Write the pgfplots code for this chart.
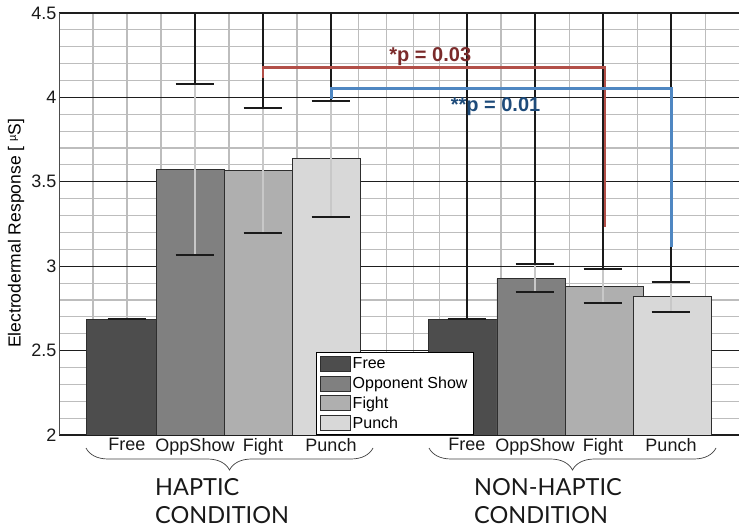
\documentclass[border=0pt]{standalone}
\usepackage{fontspec}
\setmainfont{Liberation Sans}
\newfontfamily\condfont{Lato}
\usepackage{pgfplots}
\pgfplotsset{compat=1.18}
\usetikzlibrary{decorations.pathreplacing}
\definecolor{cFree}{HTML}{4D4D4D}
\definecolor{cOpp}{HTML}{808080}
\definecolor{cFight}{HTML}{AFAFAF}
\definecolor{cPunch}{HTML}{D8D8D8}
\definecolor{barEdge}{HTML}{2E2E2E}
\definecolor{gridDark}{HTML}{1E1E1E}
\definecolor{gridLight}{HTML}{BDBDBD}
\definecolor{errLight}{HTML}{C8C8C8}
\definecolor{errDark}{HTML}{1A1A1A}
\definecolor{bracketRed}{HTML}{B24F48}
\definecolor{bracketBlue}{HTML}{4F87C2}
\definecolor{textRed}{HTML}{7B2B2B}
\definecolor{textBlue}{HTML}{1E4B7A}
\pgfplotsset{
  legbox/.style={legend image code/.code={\draw[##1] (0bp,-7.5bp) rectangle (30bp,7.5bp);}},
  barstyle/.style={ybar, bar shift=0pt, draw=barEdge, line width=0.8bp, legbox},
  errL/.style={errLight, line width=2bp, forget plot},
  errD/.style={errDark, line width=1.5bp, forget plot},
  cap/.style={errDark, line width=2bp, forget plot},
}
\begin{document}
\begin{tikzpicture}
\useasboundingbox (-59bp,-94bp) rectangle (680bp,435bp);
\begin{axis}[
  scale only axis, width=680bp, height=422bp,
  xmin=0, xmax=10, ymin=2, ymax=4.5,
  ytick={2,2.5,3,3.5,4,4.5}, minor y tick num=4,
  xtick={1,2,3,4,6,7,8,9},
  xticklabels={Free,OppShow,Fight,Punch,Free,OppShow,Fight,Punch},
  minor xtick={0.5,1,1.5,2.5,3.5,4.40,4.81,5.21,5.60,6.5,7.51,8.51,9.51},
  xmajorgrids=false, xminorgrids=true, ymajorgrids=true, yminorgrids=true,
  major grid style={draw=gridDark, line width=1.1bp},
  minor grid style={draw=gridLight, line width=1.1bp},
  major tick length=0pt, minor tick length=0pt,
  axis line style={draw=none},
  /pgf/number format/assume math mode=true,
  yticklabel style={font=\fontsize{18bp}{20bp}\selectfont, text=black!90, inner sep=2.5bp},
  xticklabel style={font=\fontsize{18bp}{20bp}\selectfont, text=black!90, inner sep=3bp},
  ylabel={Electrodermal Response [ \raisebox{0.5ex}{\fontsize{11bp}{11bp}\selectfont µ}S]},
  ylabel style={font=\fontsize{17.5bp}{19bp}\selectfont, at={(axis description cs:-0.0632,0.478)}, anchor=center},
  legend style={at={(axis description cs:0.378,0)}, anchor=south west, draw=black, line width=0.8bp,
    fill=white, font=\fontsize{16bp}{18bp}\selectfont, inner xsep=4bp, inner ysep=3.5bp,
    row sep=3.6bp, nodes={inner sep=1.5bp}},
  legend cell align=left,
]
% bars
\addplot[barstyle, bar width=1.02, fill=cFree] coordinates {(0.92,2.684) (5.94,2.684)};
\addlegendentry{Free}
\addplot[barstyle, bar width=1.0, fill=cOpp] coordinates {(1.93,3.574) (6.94,2.926)};
\addlegendentry{Opponent Show}
\addplot[barstyle, bar width=1.0, fill=cFight] coordinates {(2.93,3.568)};
\addlegendentry{Fight}
\addplot[barstyle, bar width=1.0, fill=cPunch] coordinates {(3.93,3.637)};
\addlegendentry{Punch}
\addplot[barstyle, bar width=1.15, fill=cFight, forget plot] coordinates {(8.015,2.883)};
\addplot[barstyle, bar width=1.15, fill=cPunch, forget plot] coordinates {(9.015,2.819)};
% error bars: light segments
\addplot[errL] coordinates {(2,3.066) (2,4.079)};
\addplot[errL] coordinates {(3,3.199) (3,3.939)};
\addplot[errL] coordinates {(4,3.293) (4,3.979)};
\addplot[errL] coordinates {(7,2.845) (7,3.011)};
\addplot[errL] coordinates {(8,2.784) (8,2.985)};
\addplot[errL] coordinates {(9,2.730) (9,2.904)};
% dark upper lines
\addplot[errD] coordinates {(2,4.079) (2,4.5)};
\addplot[errD] coordinates {(3,3.939) (3,4.5)};
\addplot[errD] coordinates {(4,3.979) (4,4.5)};
\addplot[errD] coordinates {(6,2.686) (6,4.5)};
\addplot[errD] coordinates {(7,3.011) (7,4.5)};
\addplot[errD] coordinates {(8,2.985) (8,4.5)};
\addplot[errD] coordinates {(9,2.904) (9,4.5)};
% caps
\addplot[cap] coordinates {(0.715,2.686) (1.285,2.686)};
\addplot[cap] coordinates {(1.715,4.079) (2.285,4.079)};
\addplot[cap] coordinates {(1.715,3.066) (2.285,3.066)};
\addplot[cap] coordinates {(2.715,3.939) (3.285,3.939)};
\addplot[cap] coordinates {(2.715,3.199) (3.285,3.199)};
\addplot[cap] coordinates {(3.715,3.979) (4.285,3.979)};
\addplot[cap] coordinates {(3.715,3.293) (4.285,3.293)};
\addplot[cap] coordinates {(5.715,2.686) (6.285,2.686)};
\addplot[cap] coordinates {(6.715,3.011) (7.285,3.011)};
\addplot[cap] coordinates {(6.715,2.845) (7.285,2.845)};
\addplot[cap] coordinates {(7.715,2.985) (8.285,2.985)};
\addplot[cap] coordinates {(7.715,2.784) (8.285,2.784)};
\addplot[cap] coordinates {(8.715,2.904) (9.285,2.904)};
\addplot[cap] coordinates {(8.715,2.730) (9.285,2.730)};
% significance brackets
\addplot[bracketRed, line width=2.6bp, forget plot] coordinates {(3.0,4.115) (3.0,4.176) (8.03,4.176) (8.03,3.232)};
\addplot[bracketBlue, line width=2.6bp, forget plot] coordinates {(4.01,3.99) (4.01,4.054) (9.01,4.054) (9.01,3.114)};
\node[anchor=base, font=\bfseries\fontsize{20bp}{22bp}\selectfont, text=textRed, inner sep=0] at (axis cs:5.46,4.211) {*p = 0.03};
\node[anchor=base, font=\bfseries\fontsize{20bp}{22bp}\selectfont, text=textBlue, inner sep=0] at (axis cs:6.42,3.919) {**p = 0.01};
\end{axis}
\draw[black!70, line width=1bp] (0,0) -- (0,422bp);
\draw[decorate, decoration={brace, mirror, amplitude=22bp}, line width=0.7bp, black!75] (27bp,-13bp) -- (314bp,-13bp);
\draw[decorate, decoration={brace, mirror, amplitude=22bp}, line width=0.7bp, black!75] (370bp,-13bp) -- (657bp,-13bp);
\node[anchor=base west, font=\condfont\fontsize{23.5bp}{28bp}\selectfont, inner sep=0, text=black!90] at (96bp,-60bp) {HAPTIC};
\node[anchor=base west, font=\condfont\fontsize{23.5bp}{28bp}\selectfont, inner sep=0, text=black!90] at (96bp,-88bp) {CONDITION};
\node[anchor=base west, font=\condfont\fontsize{23.5bp}{28bp}\selectfont, inner sep=0, text=black!90] at (415bp,-60bp) {NON-HAPTIC};
\node[anchor=base west, font=\condfont\fontsize{23.5bp}{28bp}\selectfont, inner sep=0, text=black!90] at (415bp,-88bp) {CONDITION};
\end{tikzpicture}
\end{document}
